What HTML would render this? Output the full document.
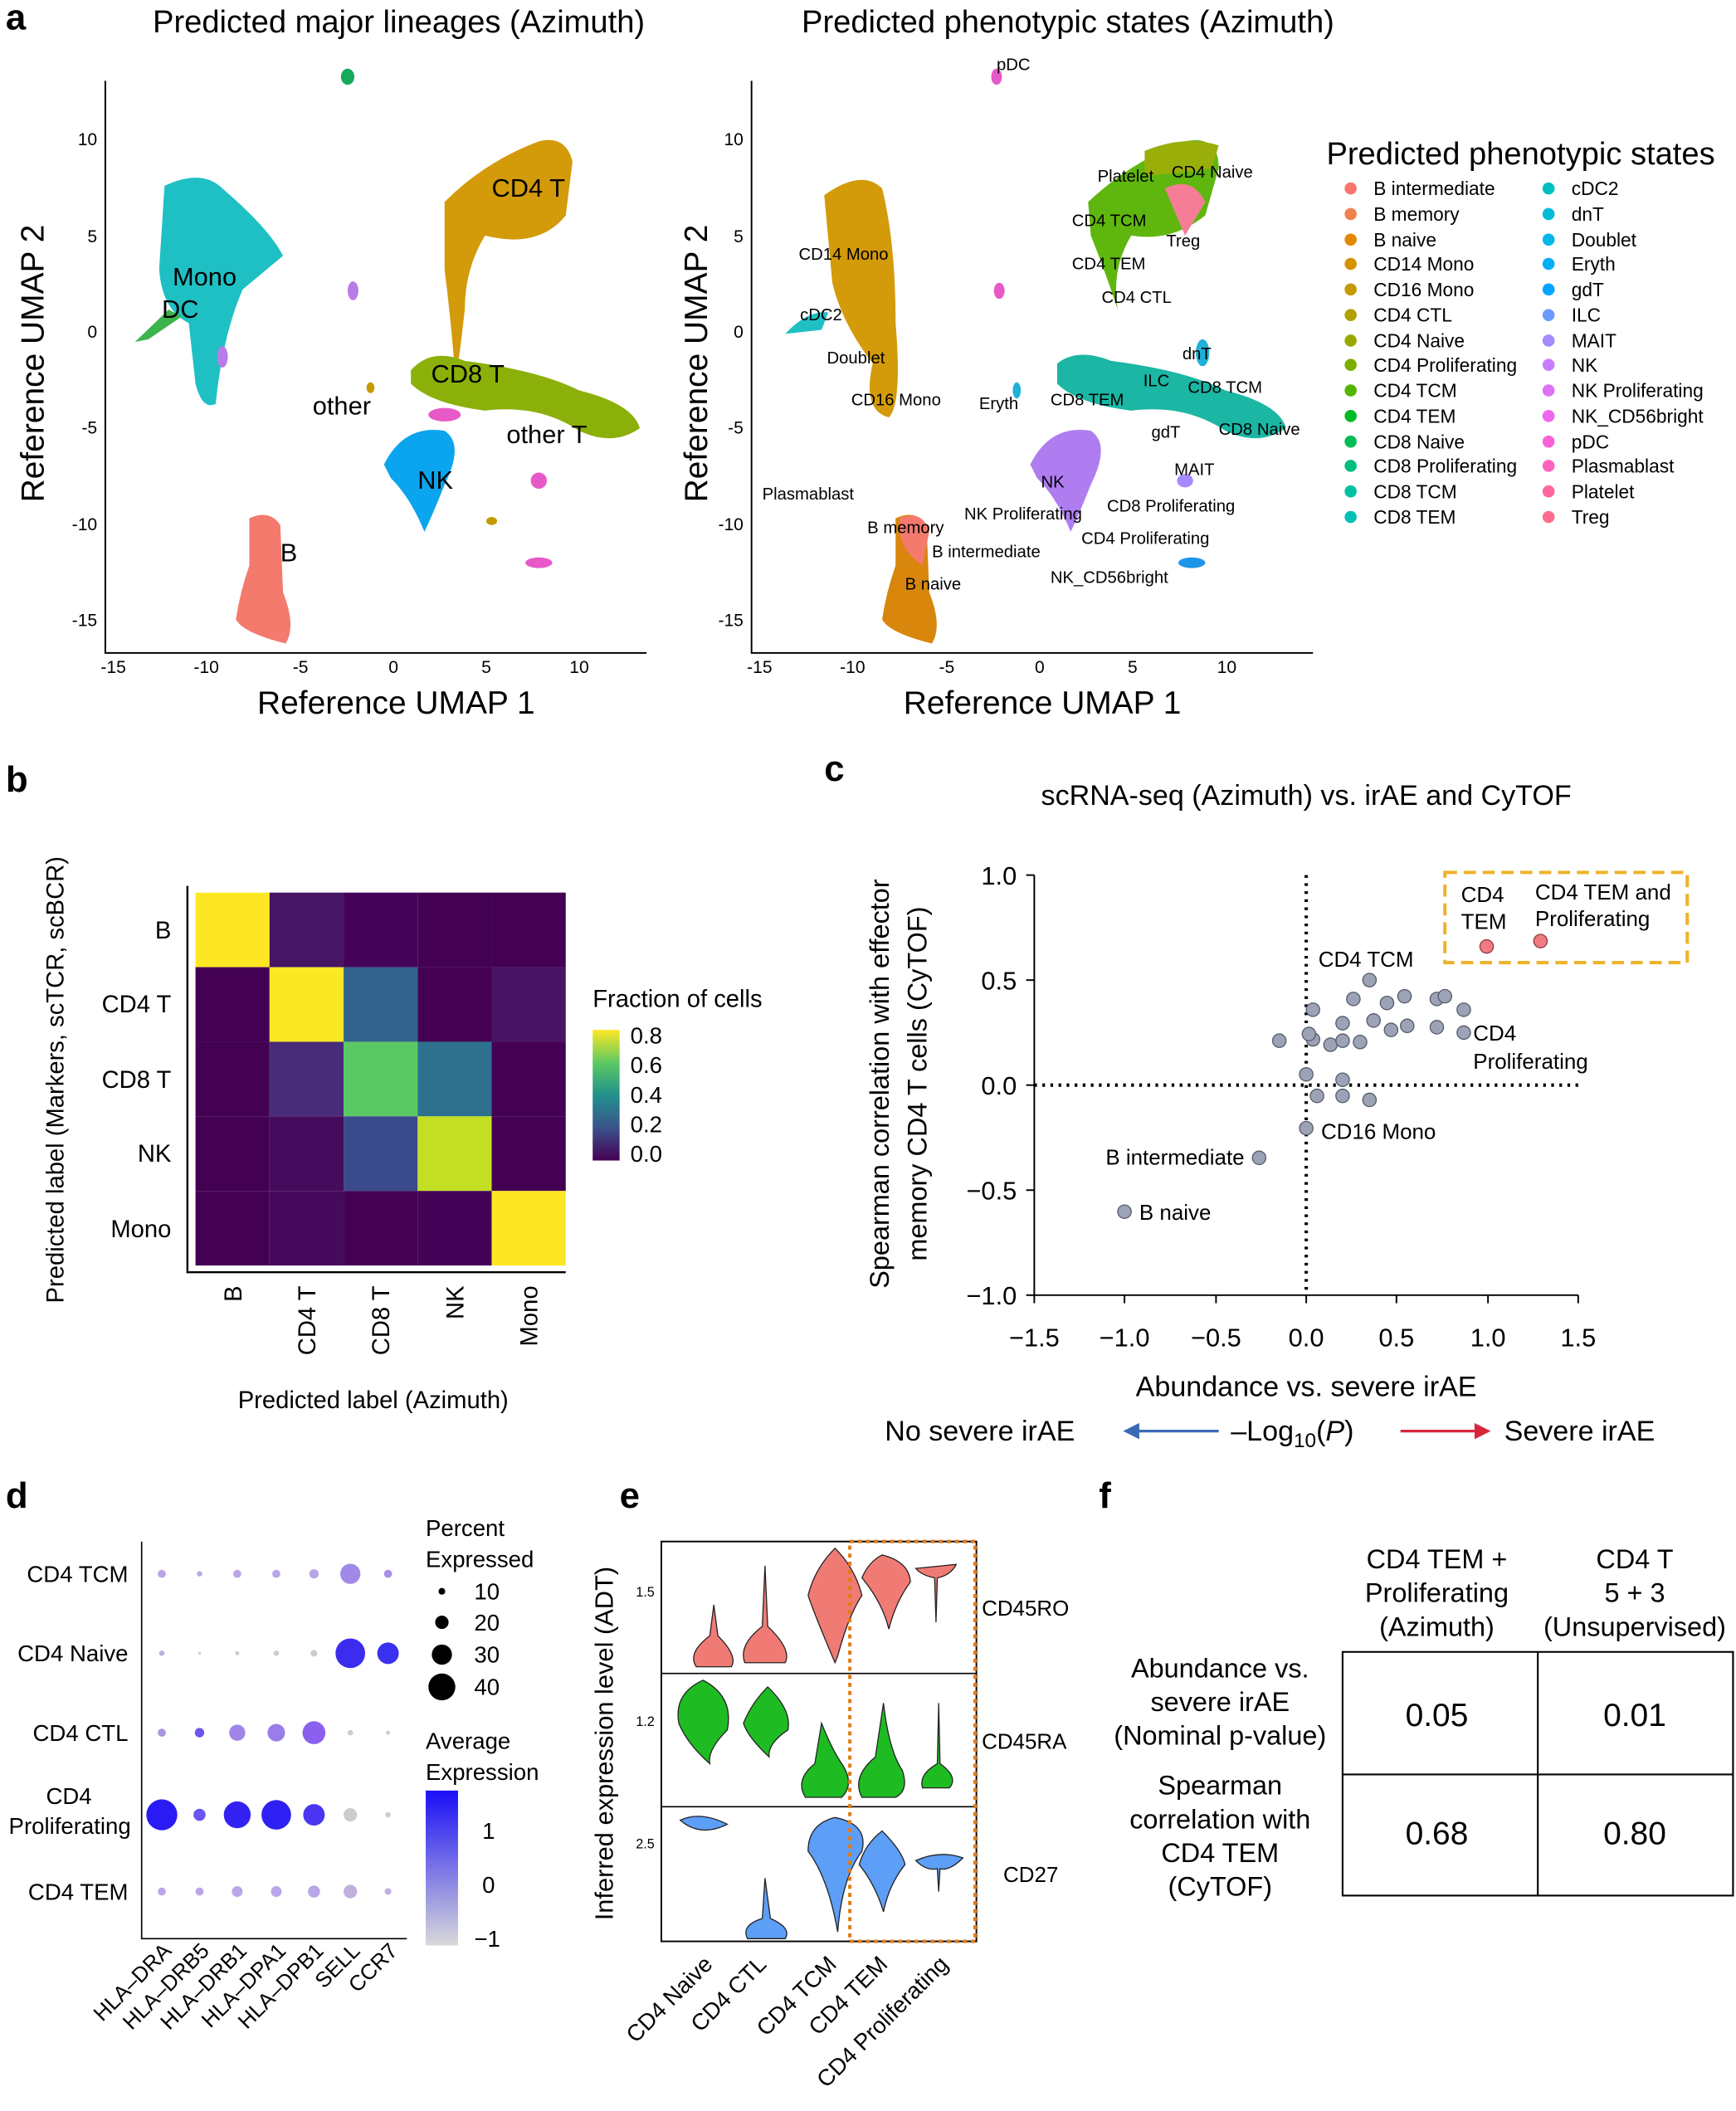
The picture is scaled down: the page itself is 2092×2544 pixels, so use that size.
<!DOCTYPE html>
<html><head><meta charset="utf-8"><style>
html,body{margin:0;padding:0;background:#fff;}
svg{display:block;font-family:"Liberation Sans",Arial,sans-serif;}
</style></head><body>
<svg width="2092" height="2544" viewBox="0 0 1289 1568" xmlns="http://www.w3.org/2000/svg">
<g font-weight="bold" font-size="27">
<text x="4" y="22">a</text><text x="4" y="588">b</text><text x="612" y="580">c</text>
<text x="4" y="1120">d</text><text x="460" y="1120">e</text><text x="816" y="1120">f</text>
</g>

<!-- ===== Panel a left ===== -->
<text x="296" y="24" font-size="23.5" text-anchor="middle">Predicted major lineages (Azimuth)</text>
<path d="M78 60 V485 H480" stroke="#000" stroke-width="1.2" fill="none"/>
<g font-size="13" text-anchor="end">
<text x="72" y="108">10</text><text x="72" y="180">5</text><text x="72" y="251">0</text><text x="72" y="322">-5</text><text x="72" y="394">-10</text><text x="72" y="465">-15</text>
</g>
<g font-size="13" text-anchor="middle">
<text x="84" y="500">-15</text><text x="153" y="500">-10</text><text x="223" y="500">-5</text><text x="292" y="500">0</text><text x="361" y="500">5</text><text x="430" y="500">10</text>
</g>
<text x="294" y="530" font-size="24" text-anchor="middle">Reference UMAP 1</text>
<text transform="translate(32,270) rotate(-90)" font-size="24" text-anchor="middle">Reference UMAP 2</text>
<g>
<path d="M122 138 Q150 125 165 140 Q200 170 210 190 L180 215 Q165 250 160 300 Q150 305 145 285 L140 240 Q120 230 118 200 Z" fill="#1fc0c4"/>
<path d="M100 254 L125 230 L135 235 L110 252 Z" fill="#3cb44b"/>
<path d="M330 150 Q360 120 400 105 Q420 100 425 120 L420 160 Q400 185 360 175 Q345 200 345 230 Q340 275 338 280 Q335 240 330 200 Z" fill="#d39a0a"/>
<path d="M305 275 Q320 258 345 268 Q400 275 430 290 Q470 300 475 318 Q455 332 430 320 Q400 300 360 305 Q320 300 305 285 Z" fill="#8cb00a"/>
<path d="M285 345 Q300 315 330 320 Q345 330 330 360 Q320 385 315 395 Q305 370 290 355 Z" fill="#0aa5ee"/>
<path d="M185 385 Q200 378 208 390 L210 440 Q220 465 212 478 Q180 470 175 460 Q178 440 185 420 Z" fill="#f47a6e"/>
<ellipse cx="258" cy="57" rx="5" ry="6" fill="#17a85a"/>
<ellipse cx="262" cy="216" rx="4" ry="7" fill="#b77ce8"/>
<ellipse cx="400" cy="418" rx="10" ry="4" fill="#e859c8"/>
<ellipse cx="400" cy="357" rx="6" ry="6" fill="#e859c8"/>
<ellipse cx="330" cy="308" rx="12" ry="5" fill="#e859c8"/>
<ellipse cx="165" cy="265" rx="4" ry="8" fill="#b77ce8"/>
<ellipse cx="365" cy="387" rx="4" ry="3" fill="#c49a00"/>
<ellipse cx="275" cy="288" rx="3" ry="4" fill="#c49a00"/>
</g>
<g font-size="19">
<text x="365" y="146">CD4 T</text><text x="128" y="212">Mono</text><text x="120" y="236">DC</text>
<text x="320" y="284">CD8 T</text><text x="232" y="308">other</text><text x="376" y="329">other T</text>
<text x="310" y="363">NK</text><text x="208" y="417">B</text>
</g>

<!-- ===== Panel a right ===== -->
<text x="793" y="24" font-size="23.5" text-anchor="middle">Predicted phenotypic states (Azimuth)</text>
<path d="M558 60 V485 H975" stroke="#000" stroke-width="1.2" fill="none"/>
<g font-size="13" text-anchor="end">
<text x="552" y="108">10</text><text x="552" y="180">5</text><text x="552" y="251">0</text><text x="552" y="322">-5</text><text x="552" y="394">-10</text><text x="552" y="465">-15</text>
</g>
<g font-size="13" text-anchor="middle">
<text x="564" y="500">-15</text><text x="633" y="500">-10</text><text x="703" y="500">-5</text><text x="772" y="500">0</text><text x="841" y="500">5</text><text x="911" y="500">10</text>
</g>
<text x="774" y="530" font-size="24" text-anchor="middle">Reference UMAP 1</text>
<text transform="translate(525,270) rotate(-90)" font-size="24" text-anchor="middle">Reference UMAP 2</text>
<g>
<path d="M612 145 Q640 125 655 140 Q665 180 665 240 Q670 300 660 310 Q640 305 648 270 Q625 240 618 210 Z" fill="#d39a0a"/>
<path d="M583 248 Q600 230 615 232 L610 245 Z" fill="#1fc0c4"/>
<path d="M808 150 Q840 120 880 105 Q905 100 905 125 L895 160 Q870 180 840 175 Q825 200 830 230 Q820 200 810 175 Z" fill="#5fb60e"/>
<path d="M865 140 Q885 130 895 150 L880 175 Z" fill="#f57e96"/>
<path d="M850 112 Q880 100 905 108 L900 125 Q870 130 850 130 Z" fill="#9aae0a"/>
<path d="M785 270 Q800 258 825 268 Q880 275 910 290 Q950 300 955 318 Q935 332 910 320 Q880 300 840 305 Q800 300 785 285 Z" fill="#1bb6a4"/>
<path d="M765 345 Q780 315 810 320 Q825 330 810 360 Q800 385 795 395 Q785 370 770 355 Z" fill="#b07df0"/>
<path d="M665 385 Q680 378 688 390 L690 440 Q700 465 692 478 Q660 470 655 460 Q658 440 665 420 Z" fill="#d8860c"/>
<path d="M668 385 Q685 378 690 395 L685 420 Q670 410 668 395 Z" fill="#f47a6e"/>
<ellipse cx="740" cy="57" rx="4" ry="6" fill="#e859c8"/>
<ellipse cx="885" cy="418" rx="10" ry="4" fill="#1f95e8"/>
<ellipse cx="755" cy="290" rx="3" ry="6" fill="#1fb1d8"/>
<ellipse cx="742" cy="216" rx="4" ry="6" fill="#e859c8"/>
<ellipse cx="880" cy="357" rx="6" ry="5" fill="#a58aff"/>
<ellipse cx="893" cy="262" rx="5" ry="10" fill="#1fb1d8"/>
</g>
<g font-size="12.5">
<text x="740" y="52">pDC</text><text x="815" y="135">Platelet</text><text x="870" y="132">CD4 Naive</text>
<text x="796" y="168">CD4 TCM</text><text x="866" y="183">Treg</text><text x="796" y="200">CD4 TEM</text>
<text x="593" y="193">CD14 Mono</text><text x="818" y="225">CD4 CTL</text><text x="594" y="238">cDC2</text>
<text x="614" y="270">Doublet</text><text x="878" y="267">dnT</text><text x="849" y="287">ILC</text><text x="882" y="292">CD8 TCM</text>
<text x="632" y="301">CD16 Mono</text><text x="727" y="304">Eryth</text><text x="780" y="301">CD8 TEM</text>
<text x="855" y="325">gdT</text><text x="905" y="323">CD8 Naive</text>
<text x="872" y="353">MAIT</text><text x="773" y="362">NK</text><text x="566" y="371">Plasmablast</text>
<text x="716" y="386">NK Proliferating</text><text x="822" y="380">CD8 Proliferating</text>
<text x="644" y="396">B memory</text><text x="692" y="414">B intermediate</text><text x="803" y="404">CD4 Proliferating</text>
<text x="780" y="433">NK_CD56bright</text><text x="672" y="438">B naive</text>
</g>

<!-- Legend -->
<text x="985" y="122" font-size="23.5">Predicted phenotypic states</text>
<g font-size="14">
<circle cx="1003" cy="140" r="4.5" fill="#f8766d"/><text x="1020" y="145">B intermediate</text>
<circle cx="1003" cy="159" r="4.5" fill="#f0814f"/><text x="1020" y="164">B memory</text>
<circle cx="1003" cy="178" r="4.5" fill="#e38900"/><text x="1020" y="183">B naive</text>
<circle cx="1003" cy="196" r="4.5" fill="#d49200"/><text x="1020" y="201">CD14 Mono</text>
<circle cx="1003" cy="215" r="4.5" fill="#c49a00"/><text x="1020" y="220">CD16 Mono</text>
<circle cx="1003" cy="234" r="4.5" fill="#afa100"/><text x="1020" y="239">CD4 CTL</text>
<circle cx="1003" cy="253" r="4.5" fill="#99a800"/><text x="1020" y="258">CD4 Naive</text>
<circle cx="1003" cy="271" r="4.5" fill="#7cae00"/><text x="1020" y="276">CD4 Proliferating</text>
<circle cx="1003" cy="290" r="4.5" fill="#53b400"/><text x="1020" y="295">CD4 TCM</text>
<circle cx="1003" cy="309" r="4.5" fill="#00b927"/><text x="1020" y="314">CD4 TEM</text>
<circle cx="1003" cy="328" r="4.5" fill="#00bc56"/><text x="1020" y="333">CD8 Naive</text>
<circle cx="1003" cy="346" r="4.5" fill="#00be7d"/><text x="1020" y="351">CD8 Proliferating</text>
<circle cx="1003" cy="365" r="4.5" fill="#00c0a0"/><text x="1020" y="370">CD8 TCM</text>
<circle cx="1003" cy="384" r="4.5" fill="#00c0b8"/><text x="1020" y="389">CD8 TEM</text>
<circle cx="1150" cy="140" r="4.5" fill="#00bfc4"/><text x="1167" y="145">cDC2</text>
<circle cx="1150" cy="159" r="4.5" fill="#00bcd8"/><text x="1167" y="164">dnT</text>
<circle cx="1150" cy="178" r="4.5" fill="#00b7e9"/><text x="1167" y="183">Doublet</text>
<circle cx="1150" cy="196" r="4.5" fill="#00b0f6"/><text x="1167" y="201">Eryth</text>
<circle cx="1150" cy="215" r="4.5" fill="#00a5ff"/><text x="1167" y="220">gdT</text>
<circle cx="1150" cy="234" r="4.5" fill="#6c9bff"/><text x="1167" y="239">ILC</text>
<circle cx="1150" cy="253" r="4.5" fill="#a58aff"/><text x="1167" y="258">MAIT</text>
<circle cx="1150" cy="271" r="4.5" fill="#c77cff"/><text x="1167" y="276">NK</text>
<circle cx="1150" cy="290" r="4.5" fill="#df70f8"/><text x="1167" y="295">NK Proliferating</text>
<circle cx="1150" cy="309" r="4.5" fill="#f066ea"/><text x="1167" y="314">NK_CD56bright</text>
<circle cx="1150" cy="328" r="4.5" fill="#fb61d7"/><text x="1167" y="333">pDC</text>
<circle cx="1150" cy="346" r="4.5" fill="#ff62bc"/><text x="1167" y="351">Plasmablast</text>
<circle cx="1150" cy="365" r="4.5" fill="#ff679f"/><text x="1167" y="370">Platelet</text>
<circle cx="1150" cy="384" r="4.5" fill="#ff6c90"/><text x="1167" y="389">Treg</text>
</g>

<!-- ===== Panel b ===== -->
<g>
<rect x="145" y="663" width="55" height="55.4" fill="#fde725"/><rect x="200" y="663" width="55" height="55.4" fill="#461563"/><rect x="255" y="663" width="55" height="55.4" fill="#440358"/><rect x="310" y="663" width="55" height="55.4" fill="#440154"/><rect x="365" y="663" width="55" height="55.4" fill="#440154"/>
<rect x="145" y="718.4" width="55" height="55.4" fill="#440154"/><rect x="200" y="718.4" width="55" height="55.4" fill="#fbe723"/><rect x="255" y="718.4" width="55" height="55.4" fill="#33638d"/><rect x="310" y="718.4" width="55" height="55.4" fill="#440154"/><rect x="365" y="718.4" width="55" height="55.4" fill="#471365"/>
<rect x="145" y="773.8" width="55" height="55.4" fill="#440154"/><rect x="200" y="773.8" width="55" height="55.4" fill="#472c7a"/><rect x="255" y="773.8" width="55" height="55.4" fill="#5ac864"/><rect x="310" y="773.8" width="55" height="55.4" fill="#2d718e"/><rect x="365" y="773.8" width="55" height="55.4" fill="#440154"/>
<rect x="145" y="829.2" width="55" height="55.4" fill="#440154"/><rect x="200" y="829.2" width="55" height="55.4" fill="#450b5d"/><rect x="255" y="829.2" width="55" height="55.4" fill="#3b4a8a"/><rect x="310" y="829.2" width="55" height="55.4" fill="#c2df23"/><rect x="365" y="829.2" width="55" height="55.4" fill="#440154"/>
<rect x="145" y="884.6" width="55" height="55.4" fill="#440154"/><rect x="200" y="884.6" width="55" height="55.4" fill="#450a5c"/><rect x="255" y="884.6" width="55" height="55.4" fill="#440154"/><rect x="310" y="884.6" width="55" height="55.4" fill="#440256"/><rect x="365" y="884.6" width="55" height="55.4" fill="#fde725"/>
</g>
<path d="M139 658 V945 H420" stroke="#000" stroke-width="1.5" fill="none"/>
<g font-size="18" text-anchor="end">
<text x="127" y="697">B</text><text x="127" y="752">CD4 T</text><text x="127" y="808">CD8 T</text><text x="127" y="863">NK</text><text x="127" y="919">Mono</text>
</g>
<g font-size="18" text-anchor="end">
<text transform="translate(179,955) rotate(-90)">B</text>
<text transform="translate(234,955) rotate(-90)">CD4 T</text>
<text transform="translate(289,955) rotate(-90)">CD8 T</text>
<text transform="translate(344,955) rotate(-90)">NK</text>
<text transform="translate(399,955) rotate(-90)">Mono</text>
</g>
<text x="277" y="1046" font-size="18" text-anchor="middle">Predicted label (Azimuth)</text>
<text transform="translate(47,802) rotate(-90)" font-size="18" text-anchor="middle">Predicted label (Markers, scTCR, scBCR)</text>
<text x="440" y="748" font-size="18">Fraction of cells</text>
<defs><linearGradient id="vir" x1="0" y1="1" x2="0" y2="0">
<stop offset="0" stop-color="#440154"/><stop offset="0.25" stop-color="#3b528b"/><stop offset="0.5" stop-color="#21918c"/><stop offset="0.75" stop-color="#5ec962"/><stop offset="1" stop-color="#fde725"/>
</linearGradient></defs>
<rect x="440" y="765" width="20" height="97" fill="url(#vir)"/>
<g font-size="17"><text x="468" y="775">0.8</text><text x="468" y="797">0.6</text><text x="468" y="819">0.4</text><text x="468" y="841">0.2</text><text x="468" y="863">0.0</text></g>

<!-- ===== Panel c ===== -->
<text x="970" y="598" font-size="21" text-anchor="middle">scRNA-seq (Azimuth) vs. irAE and CyTOF</text>
<path d="M768 650 V962 M768 962 H1172" stroke="#000" stroke-width="1.2" fill="none"/>
<g stroke="#000" stroke-width="1.2">
<line x1="762" y1="650" x2="768" y2="650"/><line x1="762" y1="728" x2="768" y2="728"/><line x1="762" y1="806" x2="768" y2="806"/><line x1="762" y1="884" x2="768" y2="884"/><line x1="762" y1="962" x2="768" y2="962"/>
<line x1="768" y1="962" x2="768" y2="968"/><line x1="835" y1="962" x2="835" y2="968"/><line x1="903" y1="962" x2="903" y2="968"/><line x1="970" y1="962" x2="970" y2="968"/><line x1="1037" y1="962" x2="1037" y2="968"/><line x1="1105" y1="962" x2="1105" y2="968"/><line x1="1172" y1="962" x2="1172" y2="968"/>
</g>
<g font-size="19" text-anchor="end"><text x="755" y="657">1.0</text><text x="755" y="735">0.5</text><text x="755" y="813">0.0</text><text x="755" y="891">−0.5</text><text x="755" y="969">−1.0</text></g>
<g font-size="19" text-anchor="middle"><text x="768" y="1000">−1.5</text><text x="835" y="1000">−1.0</text><text x="903" y="1000">−0.5</text><text x="970" y="1000">0.0</text><text x="1037" y="1000">0.5</text><text x="1105" y="1000">1.0</text><text x="1172" y="1000">1.5</text></g>
<g stroke="#000" stroke-width="2.5" stroke-dasharray="2,4"><line x1="970" y1="650" x2="970" y2="962"/><line x1="768" y1="806" x2="1172" y2="806"/></g>
<text transform="translate(660,805) rotate(-90)" font-size="20" text-anchor="middle">Spearman correlation with effector</text>
<text transform="translate(688,805) rotate(-90)" font-size="20" text-anchor="middle">memory CD4 T cells (CyTOF)</text>
<text x="970" y="1037" font-size="21" text-anchor="middle">Abundance vs. severe irAE</text>
<text x="657" y="1070" font-size="21">No severe irAE</text>
<line x1="905" y1="1063" x2="840" y2="1063" stroke="#3b6bb5" stroke-width="2"/><path d="M834 1063 L846 1057 L846 1069 Z" fill="#3b6bb5"/>
<text x="914" y="1070" font-size="21">–Log<tspan font-size="15" dy="5">10</tspan><tspan dy="-5">(</tspan><tspan font-style="italic">P</tspan>)</text>
<line x1="1040" y1="1063" x2="1100" y2="1063" stroke="#d6263b" stroke-width="2"/><path d="M1107 1063 L1095 1057 L1095 1069 Z" fill="#d6263b"/>
<text x="1117" y="1070" font-size="21">Severe irAE</text>
<rect x="1073" y="648" width="180" height="67" fill="none" stroke="#eeb32a" stroke-width="2.5" stroke-dasharray="9,5"/>
<g font-size="16"><text x="1085" y="670">CD4</text><text x="1085" y="690">TEM</text><text x="1140" y="668">CD4 TEM and</text><text x="1140" y="688">Proliferating</text>
<text x="979" y="718">CD4 TCM</text><text x="1094" y="773">CD4</text><text x="1094" y="794">Proliferating</text>
<text x="981" y="846">CD16 Mono</text><text x="821" y="865">B intermediate</text><text x="846" y="906">B naive</text></g>
<g fill="#9ca3b6" stroke="#555a6a" stroke-width="0.8">
<circle cx="950" cy="773" r="5"/><circle cx="975" cy="750" r="5"/><circle cx="975" cy="772" r="5"/><circle cx="972" cy="768" r="5"/><circle cx="988" cy="776" r="5"/><circle cx="997" cy="760" r="5"/><circle cx="1005" cy="742" r="5"/><circle cx="1017" cy="728" r="5"/><circle cx="1020" cy="758" r="5"/><circle cx="1030" cy="745" r="5"/><circle cx="1033" cy="765" r="5"/><circle cx="1043" cy="740" r="5"/><circle cx="1045" cy="762" r="5"/><circle cx="1010" cy="774" r="5"/><circle cx="997" cy="773" r="5"/><circle cx="1067" cy="763" r="5"/><circle cx="1067" cy="742" r="5"/><circle cx="1073" cy="740" r="5"/><circle cx="1087" cy="750" r="5"/><circle cx="1087" cy="767" r="5"/><circle cx="970" cy="798" r="5"/><circle cx="978" cy="814" r="5"/><circle cx="997" cy="802" r="5"/><circle cx="997" cy="814" r="5"/><circle cx="1017" cy="817" r="5"/><circle cx="970" cy="838" r="5"/><circle cx="935" cy="860" r="5"/><circle cx="835" cy="900" r="5"/>
</g>
<g fill="#f07b82" stroke="#8a3a40" stroke-width="0.8"><circle cx="1104" cy="703" r="5"/><circle cx="1144" cy="699" r="5"/></g>

<!-- ===== Panel d ===== -->
<g font-size="17" text-anchor="end"><text x="95" y="1175">CD4 TCM</text><text x="95" y="1234">CD4 Naive</text><text x="95" y="1293">CD4 CTL</text><text x="68" y="1340">CD4</text><text x="97" y="1362">Proliferating</text><text x="95" y="1411">CD4 TEM</text></g>
<path d="M105 1145 V1440 H302" stroke="#000" stroke-width="1" fill="none"/>
<g>
<circle cx="120" cy="1169" r="3" fill="#b9a6e8"/><circle cx="148" cy="1169" r="2" fill="#b9a6e8"/><circle cx="176" cy="1169" r="3" fill="#b9a6e8"/><circle cx="205" cy="1169" r="3" fill="#b9a6e8"/><circle cx="233" cy="1169" r="3.5" fill="#b9a6e8"/><circle cx="260" cy="1169" r="7.5" fill="#a08ae8"/><circle cx="288" cy="1169" r="3" fill="#a690e8"/>
<circle cx="120" cy="1228" r="2" fill="#bcb0d8"/><circle cx="148" cy="1228" r="1" fill="#ccc"/><circle cx="176" cy="1228" r="1.5" fill="#ccc"/><circle cx="205" cy="1228" r="2" fill="#ccc"/><circle cx="233" cy="1228" r="2.5" fill="#ccc"/><circle cx="260" cy="1228" r="11" fill="#3b2cf0"/><circle cx="288" cy="1228" r="8" fill="#3a30f0"/>
<circle cx="120" cy="1287" r="3" fill="#a896e0"/><circle cx="148" cy="1287" r="3.5" fill="#6a55ee"/><circle cx="176" cy="1287" r="6" fill="#a186ea"/><circle cx="205" cy="1287" r="6.5" fill="#9a7cea"/><circle cx="233" cy="1287" r="8.5" fill="#8a60ee"/><circle cx="260" cy="1287" r="2" fill="#ccc"/><circle cx="288" cy="1287" r="1.5" fill="#ccc"/>
<circle cx="120" cy="1348" r="11.5" fill="#2a1af4"/><circle cx="148" cy="1348" r="4.5" fill="#6a55ee"/><circle cx="176" cy="1348" r="10" fill="#3422f2"/><circle cx="205" cy="1348" r="11" fill="#2e20f2"/><circle cx="233" cy="1348" r="8" fill="#4a35f0"/><circle cx="260" cy="1348" r="5" fill="#cccccc"/><circle cx="288" cy="1348" r="2" fill="#ccc"/>
<circle cx="120" cy="1405" r="3" fill="#b9a6e8"/><circle cx="148" cy="1405" r="3" fill="#b9a6e8"/><circle cx="176" cy="1405" r="4" fill="#b9a6e8"/><circle cx="205" cy="1405" r="4" fill="#b9a6e8"/><circle cx="233" cy="1405" r="4.5" fill="#b9a6e8"/><circle cx="260" cy="1405" r="5" fill="#c0b0e0"/><circle cx="288" cy="1405" r="2.5" fill="#c0b0e0"/>
</g>
<g font-size="16" text-anchor="end">
<text transform="translate(128,1450) rotate(-45)">HLA–DRA</text><text transform="translate(156,1450) rotate(-45)">HLA–DRB5</text><text transform="translate(184,1450) rotate(-45)">HLA–DRB1</text><text transform="translate(213,1450) rotate(-45)">HLA–DPA1</text><text transform="translate(241,1450) rotate(-45)">HLA–DPB1</text><text transform="translate(268,1450) rotate(-45)">SELL</text><text transform="translate(296,1450) rotate(-45)">CCR7</text>
</g>
<g font-size="17"><text x="316" y="1141">Percent</text><text x="316" y="1164">Expressed</text>
<circle cx="328" cy="1182" r="2.5"/><text x="352" y="1188">10</text><circle cx="328" cy="1205" r="5"/><text x="352" y="1211">20</text><circle cx="328" cy="1229" r="7.5"/><text x="352" y="1235">30</text><circle cx="328" cy="1253" r="10"/><text x="352" y="1259">40</text>
<text x="316" y="1299">Average</text><text x="316" y="1322">Expression</text></g>
<defs><linearGradient id="bl" x1="0" y1="1" x2="0" y2="0"><stop offset="0" stop-color="#d9d9d9"/><stop offset="1" stop-color="#1a0ff5"/></linearGradient></defs>
<rect x="316" y="1330" width="24" height="115" fill="url(#bl)"/>
<g font-size="17"><text x="358" y="1366">1</text><text x="358" y="1406">0</text><text x="352" y="1446">−1</text></g>

<!-- ===== Panel e ===== -->
<text transform="translate(455,1295) rotate(-90)" font-size="19" text-anchor="middle">Inferred expression level (ADT)</text>
<rect x="491" y="1145" width="234" height="297" fill="none" stroke="#000" stroke-width="1.2"/>
<line x1="491" y1="1243" x2="725" y2="1243" stroke="#000"/><line x1="491" y1="1342" x2="725" y2="1342" stroke="#000"/>
<g font-size="10" text-anchor="end"><text x="486" y="1186">1.5</text><text x="486" y="1282">1.2</text><text x="486" y="1373">2.5</text></g>
<g font-size="16"><text x="729" y="1200">CD45RO</text><text x="729" y="1299">CD45RA</text><text x="745" y="1398">CD27</text></g>
<g stroke="#222" stroke-width="0.8">
<g fill="#f07b75">
<path d="M530 1192 L533 1215 Q548 1230 543 1238 L517 1238 Q510 1228 527 1215 Z"/>
<path d="M568 1163 L570 1208 Q588 1225 583 1235 L553 1235 Q548 1222 566 1208 Z"/>
<path d="M620 1150 Q635 1165 640 1185 Q630 1200 622 1230 L620 1235 Q605 1200 600 1185 Q605 1165 620 1150 Z"/>
<path d="M655 1155 Q675 1160 676 1175 Q665 1190 660 1210 Q655 1190 640 1172 Q645 1160 655 1155 Z"/>
<path d="M680 1165 L710 1162 Q706 1170 696 1172 L695 1205 L694 1172 Q684 1170 680 1165 Z"/>
</g>
<g fill="#1fbb22">
<path d="M522 1248 Q545 1260 540 1285 Q525 1300 527 1310 Q510 1295 504 1280 Q500 1258 522 1248 Z"/>
<path d="M570 1253 Q588 1270 585 1285 Q570 1295 571 1305 Q555 1290 552 1280 Q558 1265 570 1253 Z"/>
<path d="M610 1280 Q618 1300 625 1310 Q635 1325 625 1335 L598 1335 Q590 1322 605 1310 Z"/>
<path d="M656 1265 Q660 1300 670 1315 Q675 1330 665 1335 L640 1335 Q632 1320 650 1305 Z"/>
<path d="M697 1265 L698 1310 Q712 1320 705 1328 L685 1328 Q682 1318 696 1310 Z"/>
</g>
<g fill="#5d9ef6">
<path d="M505 1352 Q520 1345 540 1355 Q520 1365 505 1352 Z"/>
<path d="M568 1395 L572 1425 Q588 1432 583 1440 L555 1440 Q550 1430 566 1425 Z"/>
<path d="M620 1350 Q645 1355 640 1375 Q625 1395 622 1435 Q615 1395 600 1375 Q600 1355 620 1350 Z"/>
<path d="M655 1360 Q670 1375 672 1385 Q660 1400 656 1420 Q650 1400 638 1385 Q642 1370 655 1360 Z"/>
<path d="M680 1382 Q698 1374 715 1380 Q705 1390 698 1388 L697 1405 L696 1388 Q688 1390 680 1382 Z"/>
</g>
</g>
<rect x="631" y="1145" width="93" height="297" fill="none" stroke="#e07b1a" stroke-width="2.5" stroke-dasharray="3,3"/>
<g font-size="17" text-anchor="end">
<text transform="translate(530,1460) rotate(-45)">CD4 Naive</text><text transform="translate(570,1460) rotate(-45)">CD4 CTL</text><text transform="translate(622,1460) rotate(-45)">CD4 TCM</text><text transform="translate(660,1460) rotate(-45)">CD4 TEM</text><text transform="translate(705,1460) rotate(-45)">CD4 Proliferating</text>
</g>

<!-- ===== Panel f ===== -->
<g font-size="20" text-anchor="middle">
<text x="1067" y="1165">CD4 TEM +</text><text x="1067" y="1190">Proliferating</text><text x="1067" y="1215">(Azimuth)</text>
<text x="1214" y="1165">CD4 T</text><text x="1214" y="1190">5 + 3</text><text x="1214" y="1215">(Unsupervised)</text>
<text x="906" y="1246">Abundance vs.</text><text x="906" y="1271">severe irAE</text><text x="906" y="1296">(Nominal p-value)</text>
<text x="906" y="1333">Spearman</text><text x="906" y="1358">correlation with</text><text x="906" y="1383">CD4 TEM</text><text x="906" y="1408">(CyTOF)</text>
</g>
<rect x="997" y="1227" width="290" height="181" fill="none" stroke="#000" stroke-width="1.3"/>
<line x1="1142" y1="1227" x2="1142" y2="1408" stroke="#000" stroke-width="1.3"/><line x1="997" y1="1318" x2="1287" y2="1318" stroke="#000" stroke-width="1.3"/>
<g font-size="24" text-anchor="middle"><text x="1067" y="1282">0.05</text><text x="1214" y="1282">0.01</text><text x="1067" y="1370">0.68</text><text x="1214" y="1370">0.80</text></g>
</svg>
</body></html>
